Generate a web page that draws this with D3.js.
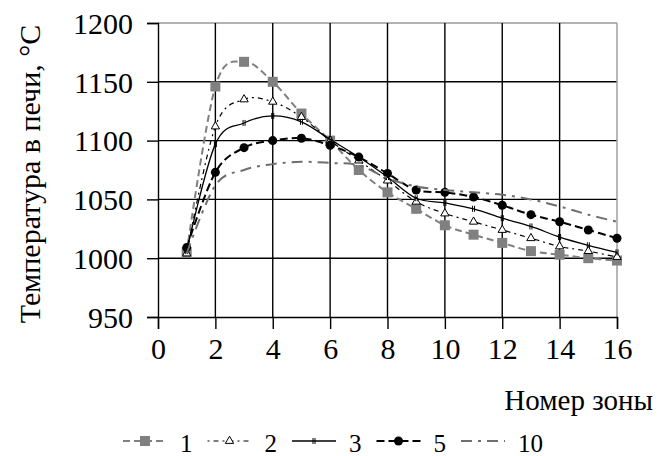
<!DOCTYPE html>
<html>
<head>
<meta charset="utf-8">
<script src="https://cdn.jsdelivr.net/npm/d3@7"></script>
<style>
  body { margin: 0; background: #fff; }
  svg text { font-family: 'Liberation Serif', 'Times New Roman', Times, serif; fill: #000; }
</style>
</head>
<body>
<svg></svg>
<script>
// chart data
var zones = [1, 2, 3, 4, 5, 6, 7, 8, 9, 10, 11, 12, 13, 14, 15, 16];
var s1  = [1005, 1146, 1167, 1150, 1123, 1100, 1075, 1056, 1042, 1028, 1020, 1013, 1006, 1003, 1000, 998];
var s2  = [1004, 1112, 1135, 1133, 1120, 1100, 1083, 1066, 1048, 1038, 1031, 1024, 1017, 1010, 1006, 1001];
var s3  = [1006, 1097, 1115, 1121, 1116, 1101, 1086, 1069, 1051, 1047, 1042, 1034, 1027, 1018, 1011, 1005];
var s5  = [1009, 1073, 1094, 1100, 1102, 1096, 1086, 1072, 1058, 1056, 1052, 1045, 1037, 1031, 1024, 1017];
var s10 = [1004, 1062, 1075, 1080, 1082, 1081, 1079, 1068, 1061, 1058, 1056, 1054, 1050, 1044, 1037, 1031];
var seriesNames = ["1", "2", "3", "5", "10"];
var xTicks = [0, 2, 4, 6, 8, 10, 12, 14, 16];
var yTicks = [950, 1000, 1050, 1100, 1150, 1200];

var svgWidth = 659;
var svgHeight = 456;
var serif = "'Liberation Serif', 'DejaVu Serif', serif";
var svg = d3.select("svg")
            .attr("width", svgWidth)
            .attr("height", svgHeight);

var x = d3.scaleLinear().domain([0, 16]).range([158, 617]);
var y = d3.scaleLinear().domain([950, 1200]).range([317, 23]);

// grid
svg.append("g").selectAll("line")
   .data(yTicks.slice(1))
   .enter().append("line")
   .attr("x1", x(0)).attr("x2", x(16))
   .attr("y1", function(d){ return y(d); })
   .attr("y2", function(d){ return y(d); })
   .attr("stroke", function(d){ return d == 1200 ? "#999" : "#000"; })
   .attr("stroke-width", 1.4);

svg.append("g").selectAll("line")
   .data(xTicks.slice(1))
   .enter().append("line")
   .attr("y1", y(950)).attr("y2", y(1200))
   .attr("x1", function(d){ return x(d); })
   .attr("x2", function(d){ return x(d); })
   .attr("stroke", function(d){ return d == 16 ? "#999" : "#000"; })
   .attr("stroke-width", 1.4);

// axes
var xAxis = svg.append("g")
   .attr("transform", "translate(0," + y(950) + ")")
   .call(d3.axisBottom(x).tickValues(xTicks).tickFormat(d3.format("d")).tickSize(12).tickPadding(9));
var yAxis = svg.append("g")
   .attr("transform", "translate(" + x(0) + ",0)")
   .call(d3.axisLeft(y).tickValues(yTicks).tickFormat(d3.format("d")).tickSize(11).tickPadding(14));

[xAxis, yAxis].forEach(function(a){
  a.attr("font-family", serif).attr("font-size", 30);
  a.select(".domain").attr("stroke", "#000").attr("stroke-width", 1.4);
  a.selectAll(".tick line").attr("stroke", "#000").attr("stroke-width", 1.4);
  a.selectAll(".tick text").attr("fill", "#000");
});
yAxis.selectAll(".tick text").attr("dy", "0.34em");

// axis titles
svg.append("text")
   .attr("transform", "translate(40," + 174 + ") rotate(-90)")
   .attr("text-anchor", "middle")
   .attr("font-family", serif)
   .attr("font-size", 30)
   .text("Температура в печи, °С");

svg.append("text")
   .attr("x", 653).attr("y", 410)
   .attr("text-anchor", "end")
   .attr("font-family", serif)
   .attr("font-size", 29)
   .text("Номер зоны");

// series
var series = [
  { name: seriesNames[0], values: s1,  stroke: "#808080", width: 2,   dash: "7,4",       marker: "square" },
  { name: seriesNames[1], values: s2,  stroke: "#000",    width: 1.2, dash: "2,4,5,4",   marker: "triangle" },
  { name: seriesNames[2], values: s3,  stroke: "#000",    width: 1.3, dash: null,        marker: "tick" },
  { name: seriesNames[3], values: s5,  stroke: "#000",    width: 2,   dash: "8,4",       marker: "circle" },
  { name: seriesNames[4], values: s10, stroke: "#6e6e6e", width: 2,   dash: "11,6,3,6",  marker: null }
];

var line = d3.line()
   .x(function(d){ return x(d[0]); })
   .y(function(d){ return y(d[1]); })
   .curve(d3.curveCatmullRom.alpha(0));

function drawMarker(g, type, cx, cy) {
  if (type == "square") {
    g.append("rect").attr("x", cx - 5).attr("y", cy - 5)
     .attr("width", 10).attr("height", 10).attr("fill", "#808080");
  } else if (type == "triangle") {
    g.append("path")
     .attr("d", d3.symbol().type(d3.symbolTriangle).size(30)())
     .attr("transform", "translate(" + cx + "," + cy + ")")
     .attr("fill", "#fff").attr("stroke", "#000").attr("stroke-width", 1);
  } else if (type == "tick") {
    g.append("line").attr("x1", cx - 1).attr("x2", cx - 1)
     .attr("y1", cy - 3).attr("y2", cy + 3).attr("stroke", "#000").attr("stroke-width", 1);
    g.append("line").attr("x1", cx + 1).attr("x2", cx + 1)
     .attr("y1", cy - 3).attr("y2", cy + 3).attr("stroke", "#000").attr("stroke-width", 1);
  } else if (type == "circle") {
    g.append("circle").attr("cx", cx).attr("cy", cy).attr("r", 4.5).attr("fill", "#000");
  }
}

series.forEach(function(s){
  var pts = zones.map(function(z, i){ return [z, s.values[i]]; });
  var g = svg.append("g");
  g.append("path")
   .attr("d", line(pts))
   .attr("fill", "none")
   .attr("stroke", s.stroke)
   .attr("stroke-width", s.width)
   .attr("stroke-dasharray", s.dash);
  if (s.marker) {
    pts.forEach(function(p){ drawMarker(g, s.marker, x(p[0]), y(p[1])); });
  }
});

// legend
var lx = 123;
var ly = 441;
series.forEach(function(s){
  var g = svg.append("g");
  g.append("line")
   .attr("x1", lx).attr("x2", lx + 44)
   .attr("y1", ly).attr("y2", ly)
   .attr("stroke", s.stroke)
   .attr("stroke-width", s.width)
   .attr("stroke-dasharray", s.dash);
  if (s.marker) drawMarker(g, s.marker, lx + 22, ly);
  var t = g.append("text")
   .attr("x", lx + 57).attr("y", 452)
   .attr("font-family", serif)
   .attr("font-size", 25)
   .text(s.name);
  lx = lx + 57 + t.node().getComputedTextLength() + 15;
});
</script>
</body>
</html>
